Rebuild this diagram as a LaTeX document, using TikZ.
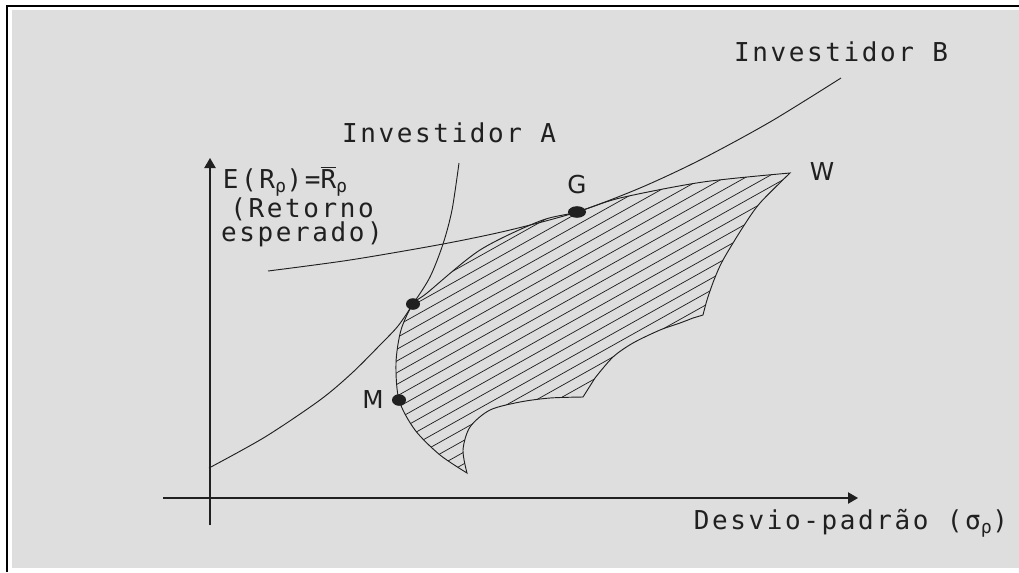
\documentclass[tikz,border=0pt]{standalone}
\usepackage{fontspec}
\setmainfont{DejaVu Sans Mono}[LetterSpace=10]
\newfontfamily\lblfont{DejaVu Sans}
\usetikzlibrary{arrows.meta}
\definecolor{bggray}{HTML}{DEDEDE}
\definecolor{ink}{HTML}{202020}
\tikzset{
  axis/.style={draw=ink, line width=0.9pt, -{Triangle[length=7.5pt,width=8.5pt]}},
  curve/.style={draw=ink, line width=0.7pt},
  hatchline/.style={draw=ink, line width=0.55pt},
  txt/.style={text=ink, inner sep=0pt, font=\fontsize{19.5}{22}\selectfont},
  ytxt/.style={text=ink, inner sep=0pt, align=center, font=\fontsize{19.5}{18.4}\selectfont},
  ptlabel/.style={text=ink, inner sep=0pt, font=\lblfont\fontsize{18.5}{22}\selectfont},
  dot/.style={fill=ink, draw=none}
}
\newcommand{\regionpath}{(790,173) -- plot[smooth] coordinates {(790,173) (703,182) (620,198) (577,212) (540,221) (480,250) (427,293) (413,304) (401,330) (396,363) (399,400) (415,430) (440,455) (467,473)}
 -- plot[smooth] coordinates {(467,473) (463,450) (470,427) (490,410) (520,402) (550,398) (583,397)}
 -- (595,378)
 -- plot[smooth] coordinates {(595,378) (613,357) (633,343) (660,330) (680,323) (693,318)}
 -- (703,315)
 -- plot[smooth] coordinates {(703,315) (707,300) (714,280) (723,260) (743,227) (760,203) (790,173)} -- cycle}
\begin{document}
\begin{tikzpicture}[x=0.75pt,y=-0.75pt]
\useasboundingbox (0,0) rectangle (1019,572);
\fill[white] (0,0) rectangle (1019,572);
\fill[bggray] (12,10) rectangle (1019,568);
\draw[line width=1.5pt, black] (7,572) -- (7,5.75) -- (1019,5.75);

% axes
\coordinate (xs) at (163,498);
\coordinate (xe) at (858,498);
\coordinate (ys) at (210,525);
\coordinate (ye) at (210,158);
\draw[axis] (xs) -- (xe);
\draw[axis] (ys) -- (ye);

% hatched region
\begin{scope}
  \clip \regionpath;
  \foreach \c in {0,...,21} {
    \draw[hatchline] (380, {513+\c*11.7-0.56*380}) -- (800, {513+\c*11.7-0.56*800});
  }
\end{scope}
\draw[curve] \regionpath;

% indifference curves
\draw[curve] plot[smooth] coordinates {(209,468) (265,437) (320,400) (352,373) (380,345) (398,326) (413,304) (430,277) (443,244) (452,210) (459,163)};
\draw[curve] plot[smooth] coordinates {(268,271) (350,260) (443,244) (510,230) (577,212) (640,188) (700,160) (770,122) (841,78)};

% points
\fill[dot] (413,304) ellipse [x radius=7, y radius=5.8];
\fill[dot] (399,400) ellipse [x radius=7, y radius=5.8];
\fill[dot] (577,212) ellipse [x radius=9, y radius=5.8];

% labels
\node[txt] (invB) at (841,52) {Investidor B};
\node[txt] (invA) at (449,133) {Investidor A};
\node[ptlabel] (G) at (577,185) {G};
\node[ptlabel] (W) at (822,172) {W};
\node[ptlabel] (M) at (373,399) {M};
\node[ytxt] (ylab) at (302,207) {E(R\textsubscript{ρ})=\setbox0\hbox{R}\rlap{\rule[\dimexpr\ht0+1.2pt\relax]{\wd0}{0.9pt}}R\textsubscript{ρ}\hspace*{25pt}\\(Retorno\\esperado)};
\node[txt] (xl) at (851,523) {Desvio-padrão (σ\textsubscript{ρ})};
\end{tikzpicture}
\end{document}
